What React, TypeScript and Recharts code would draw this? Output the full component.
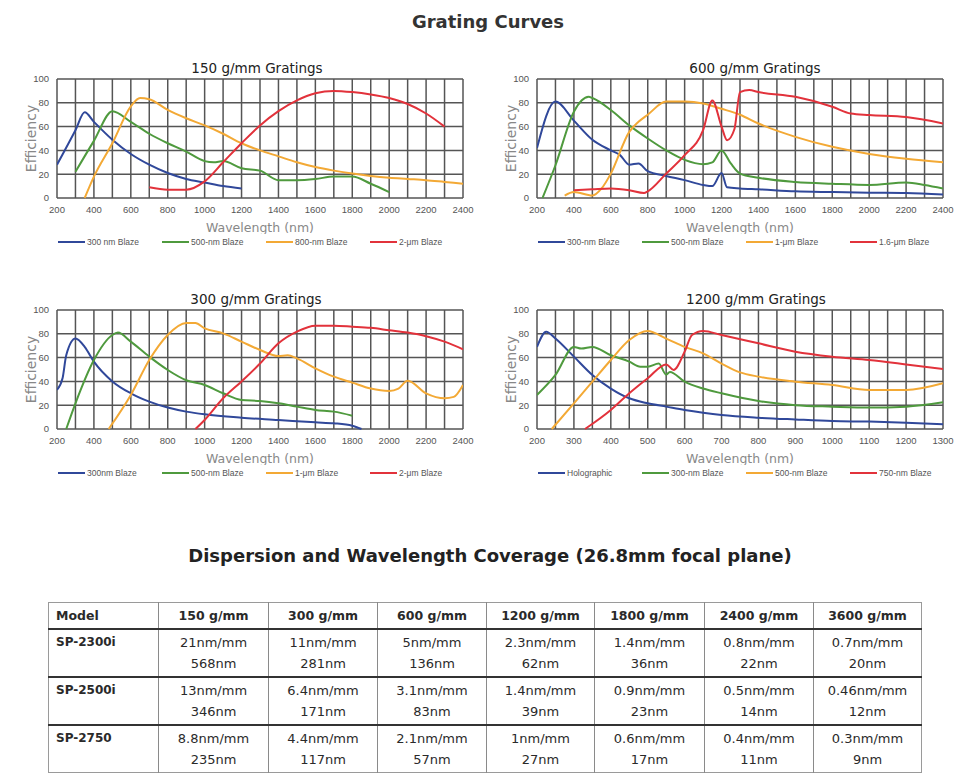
import { LineChart, Line, XAxis, YAxis, CartesianGrid } from "recharts";

const BLUE = "#30489a";
const GREEN = "#4f9a3e";
const ORANGE = "#f3a935";
const RED = "#e2323b";

// [wavelength nm, efficiency %]
const g150Blaze300 = [[200, 28], [300, 57], [350, 72], [400, 64], [500, 49], [600, 37], [700, 28], [800, 21], [900, 16], [1000, 13], [1100, 10], [1200, 8]];
const g150Blaze500 = [[300, 22], [400, 48], [500, 73], [600, 64], [700, 54], [800, 46], [900, 39], [1000, 31], [1050, 30], [1100, 31], [1200, 25], [1300, 23], [1400, 15], [1500, 15], [1600, 16], [1700, 18], [1800, 18], [1900, 12], [2000, 5]];
const g150Blaze800 = [[350, 0], [400, 18], [500, 46], [600, 77], [650, 84], [700, 83], [800, 74], [900, 67], [1000, 61], [1100, 54], [1200, 46], [1300, 40], [1400, 35], [1500, 30], [1600, 26], [1700, 23], [1800, 20.5], [1900, 18.5], [2000, 17], [2100, 16], [2200, 15], [2300, 13.5], [2400, 12]];
const g150Blaze2um = [[700, 9], [800, 7], [900, 7], [1000, 14], [1100, 30], [1200, 46], [1300, 61], [1400, 73], [1500, 82], [1600, 88], [1700, 90], [1800, 89], [1900, 87], [2000, 84], [2100, 79], [2200, 71], [2300, 60]];

const g600Blaze300 = [[200, 42], [300, 81], [400, 65], [500, 49], [600, 40], [650, 36], [700, 28], [750, 29], [800, 22.5], [900, 18.5], [1000, 15], [1100, 11], [1150, 10], [1200, 21], [1230, 9], [1300, 8], [1400, 7.3], [1600, 5.6], [1800, 5], [2000, 4.5], [2200, 4.2], [2400, 3]];
const g600Blaze500 = [[230, 0], [300, 27.5], [400, 72.5], [480, 85], [500, 84], [600, 74], [700, 61], [800, 50], [900, 40], [1000, 32], [1100, 28.4], [1150, 30], [1200, 40], [1250, 29], [1300, 20.5], [1400, 17], [1600, 13.5], [1800, 12], [2000, 11], [2200, 13], [2300, 11], [2400, 8]];
const g600Blaze1um = [[350, 2], [400, 5], [500, 2], [550, 8], [600, 20.5], [700, 55.6], [750, 64], [800, 70], [900, 81], [1000, 81], [1100, 79.5], [1200, 75], [1300, 70], [1400, 62.6], [1600, 51.4], [1800, 43], [2000, 37], [2200, 33], [2400, 30]];
const g600Blaze16um = [[400, 6.5], [500, 7.3], [600, 8], [700, 6.5], [780, 4.2], [800, 5.6], [900, 20.5], [1000, 36], [1100, 57], [1150, 82], [1200, 60], [1230, 48.6], [1270, 58], [1300, 89], [1350, 90.7], [1400, 89], [1600, 85], [1800, 76.7], [1900, 71], [2000, 69.7], [2200, 68], [2400, 62.6]];

const g300Blaze300 = [[200, 33], [230, 42.6], [250, 62], [300, 76], [350, 69], [400, 56.6], [500, 40], [600, 30], [700, 23], [800, 18], [900, 14.6], [1000, 12.3], [1200, 9.5], [1400, 7.6], [1600, 5.6], [1700, 4.8], [1800, 2.8], [1850, 0]];
const g300Blaze500 = [[250, 0], [300, 21.6], [400, 58], [500, 79], [530, 81], [600, 73.4], [700, 60.8], [800, 49.6], [900, 41], [1000, 37], [1100, 30], [1200, 24.4], [1300, 23.5], [1400, 21.6], [1500, 18.8], [1600, 16], [1700, 14.6], [1800, 11.2]];
const g300Blaze1um = [[480, 0], [600, 28.6], [700, 58], [800, 79], [900, 89], [950, 89], [1000, 84.6], [1100, 80.4], [1200, 73.4], [1300, 66.4], [1400, 61.3], [1450, 62], [1500, 59.4], [1600, 51], [1700, 44], [1800, 39], [1900, 34], [2000, 32], [2050, 34], [2100, 40.6], [2200, 30], [2300, 25.8], [2350, 27], [2400, 37]];
const g300Blaze2um = [[950, 0], [1000, 7.6], [1100, 25.8], [1200, 40], [1300, 55], [1400, 72], [1500, 81.8], [1600, 86.8], [1700, 86.8], [1800, 86], [1900, 85], [2000, 83], [2100, 81], [2200, 78], [2300, 73.4], [2400, 67]];

const g1200Holo = [[200, 69], [225, 81.8], [250, 76], [300, 60.8], [350, 45.4], [400, 34], [450, 25.8], [500, 21.6], [550, 18.8], [600, 16], [650, 13.7], [700, 11.8], [800, 9.5], [900, 8], [1000, 6.7], [1100, 6.2], [1200, 5.3], [1300, 4]];
const g1200Blaze300 = [[200, 28.6], [250, 45.4], [300, 69], [320, 67.6], [350, 69], [400, 62], [450, 56.6], [480, 52.4], [500, 52.4], [530, 55], [550, 45.7], [560, 48], [600, 39.8], [650, 34], [700, 30], [800, 23.5], [900, 20], [1000, 18.8], [1100, 18], [1200, 18.8], [1300, 22.4]];
const g1200Blaze500 = [[240, 0], [300, 21.6], [350, 39.8], [400, 58], [450, 74.8], [500, 82.4], [550, 76], [600, 69], [650, 63.6], [700, 55], [750, 47.6], [800, 44], [900, 39.8], [1000, 37], [1100, 32.8], [1200, 32.8], [1300, 38.4]];
const g1200Blaze750 = [[330, 0], [400, 16], [450, 30], [500, 42.6], [550, 54.3], [570, 49.6], [600, 65], [620, 79], [650, 82.4], [700, 79], [800, 72], [900, 65], [1000, 60.8], [1100, 58], [1200, 54.3], [1300, 50.4]];

const xTicksWide = [200, 300, 400, 500, 600, 700, 800, 900, 1000, 1100, 1200, 1300, 1400, 1500, 1600, 1700, 1800, 1900, 2000, 2100, 2200, 2300, 2400];
const xTicks1200 = [200, 250, 300, 350, 400, 450, 500, 550, 600, 650, 700, 750, 800, 850, 900, 950, 1000, 1050, 1100, 1150, 1200, 1250, 1300];
const yTicks = [0, 20, 40, 60, 80, 100];

const tableHeads = ["Model", "150 g/mm", "300 g/mm", "600 g/mm", "1200 g/mm", "1800 g/mm", "2400 g/mm", "3600 g/mm"];
const tableModels = ["SP-2300i", "SP-2500i", "SP-2750"];
const dispersion = [
  ["21nm/mm", "11nm/mm", "5nm/mm", "2.3nm/mm", "1.4nm/mm", "0.8nm/mm", "0.7nm/mm"],
  ["13nm/mm", "6.4nm/mm", "3.1nm/mm", "1.4nm/mm", "0.9nm/mm", "0.5nm/mm", "0.46nm/mm"],
  ["8.8nm/mm", "4.4nm/mm", "2.1nm/mm", "1nm/mm", "0.6nm/mm", "0.4nm/mm", "0.3nm/mm"],
];
const coverage = [
  ["568nm", "281nm", "136nm", "62nm", "36nm", "22nm", "20nm"],
  ["346nm", "171nm", "83nm", "39nm", "23nm", "14nm", "12nm"],
  ["235nm", "117nm", "57nm", "27nm", "17nm", "11nm", "9nm"],
];
const colWidths = [110, 110, 109, 109, 108, 110, 109, 108];

const FONT = "'DejaVu Sans', 'Liberation Sans', sans-serif";
const NARROW = "'Liberation Sans Narrow', 'Liberation Sans', Arial, sans-serif";

const toPts = (arr: number[][]) => arr.map(([x, y]) => ({ x, y }));

type Series = { name: string; color: string; data: number[][] };

function GratingChart(props: {
  left: number;
  top: number;
  title: string;
  titleX: number;
  series: Series[];
  ticks: number[];
  labelStep: number;
}) {
  const { left, top, title, titleX, series, ticks, labelStep } = props;
  return (
    <div style={{ position: "absolute", left, top, width: 480, height: 200 }}>
      <div
        style={{
          position: "absolute",
          left: titleX - 120,
          width: 240,
          top: 4,
          lineHeight: "18px",
          textAlign: "center",
          fontFamily: FONT,
          fontSize: 13.5,
          color: "#222",
        }}
      >
        {title}
      </div>
      <LineChart width={480} height={179} margin={{ top: 24, right: 17, bottom: 0, left: 0 }}>
        <CartesianGrid stroke="#555" strokeWidth={1.5} />
        <XAxis
          type="number"
          dataKey="x"
          domain={[ticks[0], ticks[ticks.length - 1]]}
          ticks={ticks}
          interval={0}
          allowDataOverflow
          tickLine={false}
          axisLine={false}
          height={36}
          tickFormatter={(v: number) => (v % labelStep === 0 ? String(v) : "")}
          tick={{ fontSize: 9.5, fill: "#555", fontFamily: NARROW }}
          label={{
            value: "Wavelength (nm)",
            position: "insideBottom",
            offset: 2,
            fill: "#888",
            fontSize: 12.5,
            fontFamily: FONT,
          }}
        />
        <YAxis
          type="number"
          domain={[0, 100]}
          ticks={yTicks}
          interval={0}
          tickLine={false}
          axisLine={false}
          width={57}
          tick={{ fontSize: 9.5, fill: "#555", fontFamily: NARROW }}
          label={{
            value: "Efficiency",
            angle: -90,
            position: "center",
            dx: 3,
            fill: "#888",
            fontSize: 14,
            fontFamily: FONT,
          }}
        />
        {series.map((s) => (
          <Line
            key={s.name}
            data={toPts(s.data)}
            dataKey="y"
            name={s.name}
            type="monotone"
            stroke={s.color}
            strokeWidth={2}
            dot={false}
            isAnimationActive={false}
          />
        ))}
      </LineChart>
      <div
        style={{
          position: "absolute",
          top: 181,
          left: 58,
          height: 12,
          display: "flex",
          fontFamily: NARROW,
          fontSize: 8.5,
          color: "#555",
        }}
      >
        {series.map((s) => (
          <div key={s.name} style={{ width: 104, display: "flex", alignItems: "center" }}>
            <span style={{ display: "inline-block", width: 27, height: 2, background: s.color, marginRight: 2 }} />
            <span>{s.name}</span>
          </div>
        ))}
      </div>
    </div>
  );
}

export default function App() {
  const cellBorderV = "1px solid #8a8a8a";
  const rowBorder = "2px solid #333";
  return (
    <div style={{ position: "absolute", left: 0, top: 0, width: 960, height: 778, background: "#fff", fontFamily: FONT }}>
      <div style={{ position: "absolute", top: 10, left: 0, width: 976, textAlign: "center", fontWeight: "bold", fontSize: 18, color: "#333", lineHeight: "24px" }}>
        Grating Curves
      </div>

      <GratingChart
        left={0}
        top={55}
        title="150 g/mm Gratings"
        titleX={257}
        ticks={xTicksWide}
        labelStep={200}
        series={[
          { name: "300 nm Blaze", color: BLUE, data: g150Blaze300 },
          { name: "500-nm Blaze", color: GREEN, data: g150Blaze500 },
          { name: "800-nm Blaze", color: ORANGE, data: g150Blaze800 },
          { name: "2-μm Blaze", color: RED, data: g150Blaze2um },
        ]}
      />
      <GratingChart
        left={480}
        top={55}
        title="600 g/mm Gratings"
        titleX={275}
        ticks={xTicksWide}
        labelStep={200}
        series={[
          { name: "300-nm Blaze", color: BLUE, data: g600Blaze300 },
          { name: "500-nm Blaze", color: GREEN, data: g600Blaze500 },
          { name: "1-μm Blaze", color: ORANGE, data: g600Blaze1um },
          { name: "1.6-μm Blaze", color: RED, data: g600Blaze16um },
        ]}
      />
      <GratingChart
        left={0}
        top={286}
        title="300 g/mm Gratings"
        titleX={256}
        ticks={xTicksWide}
        labelStep={200}
        series={[
          { name: "300nm Blaze", color: BLUE, data: g300Blaze300 },
          { name: "500-nm Blaze", color: GREEN, data: g300Blaze500 },
          { name: "1-μm Blaze", color: ORANGE, data: g300Blaze1um },
          { name: "2-μm Blaze", color: RED, data: g300Blaze2um },
        ]}
      />
      <GratingChart
        left={480}
        top={286}
        title="1200 g/mm Gratings"
        titleX={276}
        ticks={xTicks1200}
        labelStep={100}
        series={[
          { name: "Holographic", color: BLUE, data: g1200Holo },
          { name: "300-nm Blaze", color: GREEN, data: g1200Blaze300 },
          { name: "500-nm Blaze", color: ORANGE, data: g1200Blaze500 },
          { name: "750-nm Blaze", color: RED, data: g1200Blaze750 },
        ]}
      />

      <div style={{ position: "absolute", top: 544, left: 0, width: 980, textAlign: "center", fontWeight: "bold", fontSize: 18, color: "#222", lineHeight: "24px" }}>
        Dispersion and Wavelength Coverage (26.8mm focal plane)
      </div>

      <table
        style={{
          position: "absolute",
          left: 48,
          top: 602,
          width: 873,
          borderCollapse: "collapse",
          border: "1px solid #9a9a9a",
          fontSize: 13,
          color: "#2a2a2a",
          tableLayout: "fixed",
        }}
      >
        <colgroup>
          {colWidths.map((w, i) => (
            <col key={i} style={{ width: w }} />
          ))}
        </colgroup>
        <thead>
          <tr style={{ height: 26, borderBottom: rowBorder }}>
            {tableHeads.map((h, i) => (
              <th
                key={h}
                style={{
                  textAlign: i === 0 ? "left" : "center",
                  fontWeight: "bold",
                  fontSize: 12.5,
                  borderLeft: i === 0 ? "none" : cellBorderV,
                  padding: i === 0 ? "0 0 0 7px" : 0,
                }}
              >
                {h}
              </th>
            ))}
          </tr>
        </thead>
        <tbody>
          {tableModels.map((m, r) => (
            <tr key={m} style={{ height: 47, borderBottom: r < tableModels.length - 1 ? rowBorder : "none" }}>
              <td style={{ verticalAlign: "top", fontWeight: "bold", fontSize: 12, padding: "5px 0 0 7px" }}>{m}</td>
              {dispersion[r].map((d, c) => (
                <td key={c} style={{ textAlign: "center", borderLeft: cellBorderV, padding: "2px 0", lineHeight: "21px" }}>
                  <div>{d}</div>
                  <div>{coverage[r][c]}</div>
                </td>
              ))}
            </tr>
          ))}
        </tbody>
      </table>
    </div>
  );
}
